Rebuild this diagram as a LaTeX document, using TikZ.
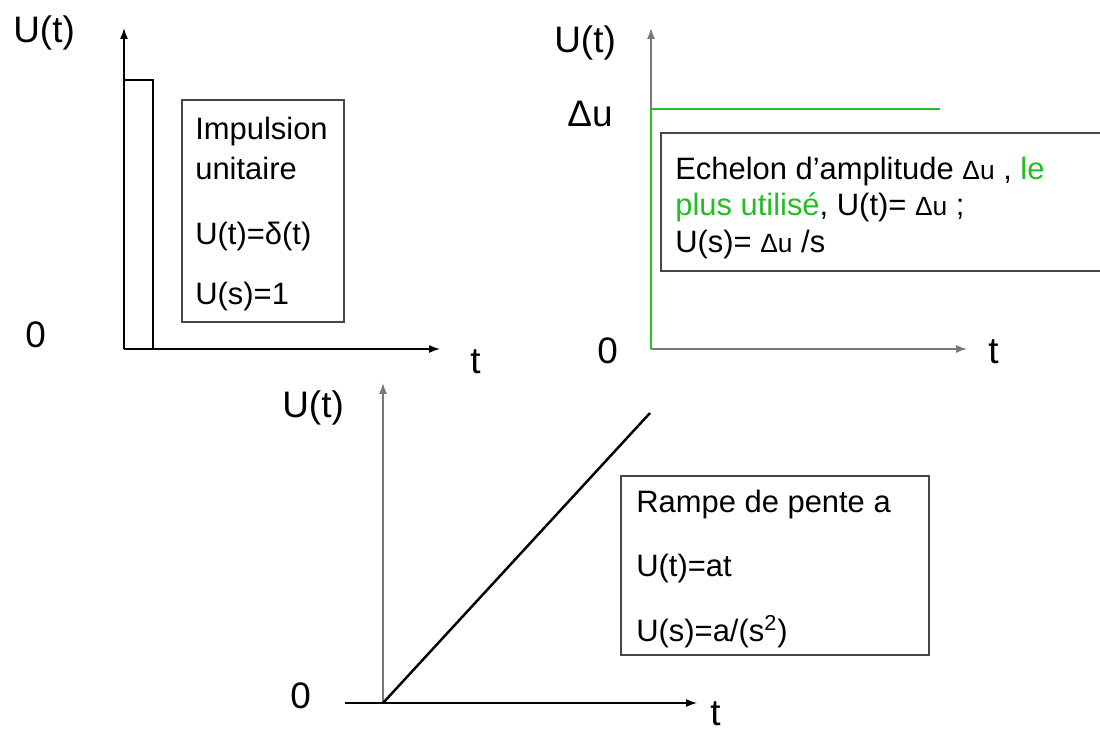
\documentclass[tikz,border=0pt]{standalone}
\usepackage{fontspec}
\setmainfont{Liberation Sans}
\usetikzlibrary{arrows.meta}
\definecolor{stepgreen}{RGB}{34,190,34}
\definecolor{boxgray}{RGB}{70,70,70}
\definecolor{axisgray}{RGB}{120,120,120}
\newcommand{\du}{{\fontsize{15}{18}\selectfont Δu}}

\begin{document}
\begin{tikzpicture}[x=0.02cm,y=-0.02cm,
    lbl/.style={anchor=base west,inner sep=0pt,font=\fontsize{17.6}{21}\selectfont},
    axlbl/.style={anchor=base west,inner sep=0pt,font=\fontsize{21}{25}\selectfont},
    axis/.style={line width=0.8pt,-{Latex[length=2.2mm,width=1.6mm]}},
    signal/.style={line width=1.6pt},
    infobox/.style={draw=boxgray,line width=1.1pt}]
  \clip (0,0) rectangle (1100,733);

  % impulsion unitaire
  \coordinate (o1) at (124,349);
  \draw[axis] (o1) -- (124,28);
  \draw[axis] (o1) -- (440,349);
  \draw[signal] (o1) -- (124,80) -- (153,80) -- (153,349);
  \draw[infobox] (182,100) rectangle (344,322);
  \node[axlbl] (u1) at (13,43) {U(t)};
  \node[axlbl] (z1) at (25,348) {0};
  \node[axlbl] (t1) at (470,374) {t};
  \node[lbl] (imp1) at (195,140) {Impulsion};
  \node[lbl] (imp2) at (195,180) {unitaire};
  \node[lbl] (imp3) at (195,245) {U(t)=δ(t)};
  \node[lbl] (imp4) at (195,305) {U(s)=1};

  % echelon
  \coordinate (o2) at (651,349);
  \draw[axis,axisgray] (o2) -- (651,28);
  \draw[axis,axisgray] (o2) -- (967,349);
  \draw[signal,stepgreen] (o2) -- (651,109) -- (940,109);
  \draw[infobox] (661,133) rectangle (1120,271);
  \node[axlbl] (u2) at (554,53) {U(t)};
  \node[axlbl] (du) at (567,127) {Δu};
  \node[axlbl] (z2) at (597,364) {0};
  \node[axlbl] (t2) at (988,364) {t};
  \node[lbl] (ech1) at (675,180) {Echelon d’amplitude \du\ , {\color{stepgreen}le}};
  \node[lbl] (ech2) at (675,216) {{\color{stepgreen}plus utilisé}, U(t)= \du\ ;};
  \node[lbl] (ech3) at (675,253) {U(s)= \du\ /s};

  % rampe
  \coordinate (o3) at (383,703);
  \draw[axis,axisgray] (o3) -- (383,383);
  \draw[axis] (345,703) -- (697,703);
  \draw[signal,line width=1.4pt] (o3) -- (650,413);
  \draw[infobox] (621,476) rectangle (929,655);
  \node[axlbl] (u3) at (282,418) {U(t)};
  \node[axlbl] (z3) at (290,708) {0};
  \node[axlbl] (t3) at (710,725) {t};
  \node[lbl] (ram1) at (636,513) {Rampe de pente a};
  \node[lbl] (ram2) at (636,577) {U(t)=at};
  \node[lbl] (ram3) at (636,642) {U(s)=a/(s\textsuperscript{2})};
\end{tikzpicture}
\end{document}
